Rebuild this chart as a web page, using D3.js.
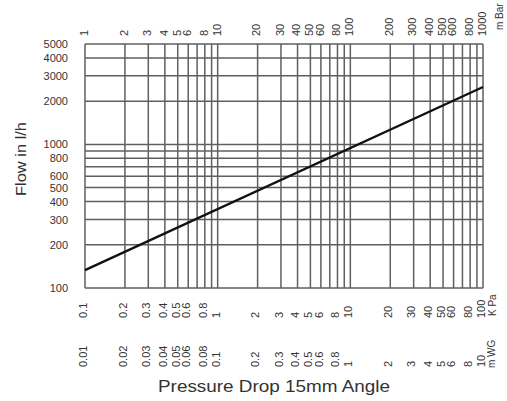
<!DOCTYPE html>
<html><head><meta charset="utf-8">
<script src="https://cdn.jsdelivr.net/npm/d3@7/dist/d3.min.js"></script>
<style>
html,body{margin:0;padding:0;background:#fff;}
svg{display:block;}
text{font-family:"Liberation Sans",Arial,Helvetica,sans-serif;fill:#333;}
</style></head>
<body>
<svg id="chart" width="507" height="401"></svg>
<script>
// ---- data ----
const pressureMbar = [1, 1000];          // series x (m Bar)
const flowLh = [133, 2510];              // series y (l/h)
const flowTickLabels = [5000, 4000, 3000, 2000, 1000, 800, 600, 500, 400, 300, 200, 100];
const flowGrid = [100, 200, 300, 400, 500, 600, 700, 800, 900, 1000, 2000, 3000, 4000, 5000];
const pressureGrid = [1,2,3,4,5,6,7,8,9,10,20,30,40,50,60,70,80,90,100,200,300,400,500,600,700,800,900,1000];
const mBarLabels = ["1","2","3","4","5","6","8","10","20","30","40","50","60","80","100","200","300","400","500","600","800","1000"];
const kPaLabels = ["0.1","0.2","0.3","0.4","0.5","0.6","0.8","1","2","3","4","5","6","8","10","20","30","40","50","60","80","100"];
const mWGLabels = ["0.01","0.02","0.03","0.04","0.05","0.06","0.08","0.1","0.2","0.3","0.4","0.5","0.6","0.8","1","2","3","4","5","6","8","10"];
const unitTop = "m Bar", unitKPa = "K Pa", unitMWG = "m WG";
const yTitle = "Flow in l/h";
const xTitle = "Pressure Drop 15mm Angle";

// ---- layout ----
const L = 85, R = 483, T = 44, B = 288;
const svg = d3.select("#chart");
svg.append("rect").attr("width",507).attr("height",401).attr("fill","#fff");

const x = d3.scaleLog().domain([1, 1000]).range([L, R]);
const y = d3.scaleLog().domain([100, 5000]).range([B, T]);

const grid = svg.append("g").attr("stroke","#5f5f5f").attr("stroke-width",1.5).attr("fill","none");
grid.selectAll("line.v").data(pressureGrid).join("line")
  .attr("x1", d=>x(d)).attr("x2", d=>x(d)).attr("y1", T).attr("y2", B);
grid.selectAll("line.h").data(flowGrid).join("line")
  .attr("y1", d=>y(d)).attr("y2", d=>y(d)).attr("x1", L).attr("x2", R);

// series line
const line = d3.line().x((d,i)=>x(pressureMbar[i])).y((d,i)=>y(flowLh[i]));
svg.append("path").datum(pressureMbar).attr("d", line)
  .attr("fill","none").attr("stroke","#111").attr("stroke-width",2.4);

// y axis labels
const yAxis = d3.axisLeft(y).tickValues(flowTickLabels).tickSize(0).tickPadding(0).tickFormat(d3.format("d"));
const yg = svg.append("g").attr("transform",`translate(${L-17},0)`).call(yAxis);
yg.select(".domain").remove();
yg.selectAll("text").attr("font-size",11).attr("fill","#333")
  .style("font-family","'Liberation Sans',Arial,sans-serif");

// rotated label rows
function row(labels, factor, baseY, unit, unitX, unitY, dx){
  const g = svg.append("g").attr("font-size",11);
  g.selectAll("text").data(labels).join("text")
    .attr("transform", d=>`translate(${x(+d*factor)+dx},${baseY}) rotate(-90)`)
    .attr("dy","0.35em").attr("text-anchor","start").text(d=>d);
  g.append("text").attr("transform",`translate(${unitX},${unitY}) rotate(-90)`)
    .attr("dy","0.35em").attr("text-anchor","start").attr("font-size",10).text(unit);
}
row(mBarLabels, 1, 36, unitTop, 499, 30, -1);
row(kPaLabels, 10, 318, unitKPa, 492, 316, -2);
row(mWGLabels, 100, 367, unitMWG, 491, 368, -2);

// titles
svg.append("text").attr("transform","translate(21,159) rotate(-90)")
  .attr("dy","0.35em").attr("text-anchor","middle").attr("font-size",14)
  .attr("textLength",74).attr("lengthAdjust","spacingAndGlyphs").text(yTitle);
svg.append("text").attr("x",274).attr("y",392)
  .attr("text-anchor","middle").attr("font-size",16)
  .attr("textLength",232).attr("lengthAdjust","spacingAndGlyphs").text(xTitle);
</script>
</body></html>
